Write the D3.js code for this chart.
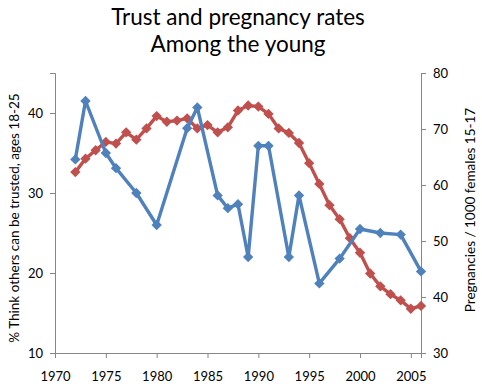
<!DOCTYPE html>
<html lang="en">
<head>
  <meta charset="UTF-8">
  <title>Trust and pregnancy rates</title>
  <script src="https://d3js.org/d3.v7.min.js"></script>
  <style>
    body { margin: 0; background: #fff; font-family: Lato, "Open Sans", sans-serif; }
    .axis path, .axis line { stroke: #868686; }
    .axis text { font-family: Lato, sans-serif; font-size: 13px; fill: #000; }
    .title { font-size: 22.5px; text-anchor: middle; }
    .axis-label { font-size: 13.5px; text-anchor: middle; }
  </style>
</head>
<body>
<script>
  // Trust survey (left axis)
  var trustYears = [1972, 1973, 1975, 1976, 1978, 1980, 1983, 1984, 1986, 1987, 1988, 1989,
                    1990, 1991, 1993, 1994, 1996, 1998, 2000, 2002, 2004, 2006];
  var trustValues = [34.2, 41.5, 35.0, 33.1, 30.0, 26.0, 38.1, 40.7, 29.7, 28.1, 28.6, 22.0,
                     35.9, 35.9, 22.0, 29.7, 18.7, 21.8, 25.5, 25.0, 24.8, 20.2];

  // Pregnancies per 1000 females 15-17 (right axis)
  var pregYears = d3.range(1972, 2007);
  var pregValues = [62.3, 64.7, 66.2, 67.7, 67.4, 69.4, 68.1, 70.1, 72.3, 71.3, 71.5, 71.9,
                    70.1, 70.7, 69.4, 70.3, 73.3, 74.2, 74.0, 72.7, 70.1, 69.3, 67.5, 63.9,
                    60.2, 56.4, 53.9, 50.5, 47.9, 44.2, 41.9, 40.5, 39.4, 37.9, 38.4];

  var xTicks = [1970, 1975, 1980, 1985, 1990, 1995, 2000, 2005];
  var leftTicks = [10, 20, 30, 40];
  var rightTicks = [30, 40, 50, 60, 70, 80];

  var W = 482, H = 388;
  var margin = { top: 73, right: 61, bottom: 35, left: 55 },
      width = W - margin.left - margin.right,
      height = H - margin.top - margin.bottom;

  var svg = d3.select("body").append("svg")
      .attr("width", W).attr("height", H);

  svg.append("text").attr("class", "title").attr("x", 238).attr("y", 25).text("Trust and pregnancy rates");
  svg.append("text").attr("class", "title").attr("x", 238).attr("y", 52).text("Among the young");

  var g = svg.append("g").attr("transform", `translate(${margin.left},${margin.top})`);

  var x = d3.scaleLinear().domain([1970, 2006]).range([0, width]);
  var yL = d3.scaleLinear().domain([10, 45]).range([height, 0]);
  var yR = d3.scaleLinear().domain([30, 80]).range([height, 0]);

  // Axes
  g.append("g").attr("class", "axis")
    .attr("transform", `translate(0,${height})`)
    .call(d3.axisBottom(x).tickValues(xTicks).tickFormat(d3.format("d")).tickSizeOuter(0).tickSize(5).tickPadding(14));

  g.append("g").attr("class", "axis")
    .call(d3.axisLeft(yL).tickValues(leftTicks).tickSizeOuter(0).tickSize(5).tickPadding(7));

  g.append("g").attr("class", "axis")
    .attr("transform", `translate(${width},0)`)
    .call(d3.axisRight(yR).tickValues(rightTicks).tickSizeOuter(5).tickSize(5).tickPadding(7));

  // Axis titles
  svg.append("text").attr("class", "axis-label")
    .attr("transform", "rotate(-90)")
    .attr("x", -218).attr("y", 19)
    .text("% Think others can be trusted, ages 18-25");

  svg.append("text").attr("class", "axis-label")
    .attr("transform", "rotate(-90)")
    .attr("x", -210).attr("y", 475)
    .text("Pregnancies / 1000 females 15-17");

  var diamond = d3.symbol().type(d3.symbolDiamond2).size(68);

  function drawSeries(years, values, yScale, color) {
    var pts = years.map((d, i) => [d, values[i]]);
    var line = d3.line().x(d => x(d[0])).y(d => yScale(d[1]));
    g.append("path").datum(pts)
      .attr("fill", "none").attr("stroke", color).attr("stroke-width", 3.4)
      .attr("stroke-linejoin", "round")
      .attr("d", line);
    g.selectAll(null).data(pts).enter().append("path")
      .attr("d", diamond)
      .attr("transform", d => `translate(${x(d[0])},${yScale(d[1])})`)
      .attr("fill", color);
  }

  drawSeries(pregYears, pregValues, yR, "#C0504D");
  drawSeries(trustYears, trustValues, yL, "#4F81BD");
</script>
</body>
</html>
